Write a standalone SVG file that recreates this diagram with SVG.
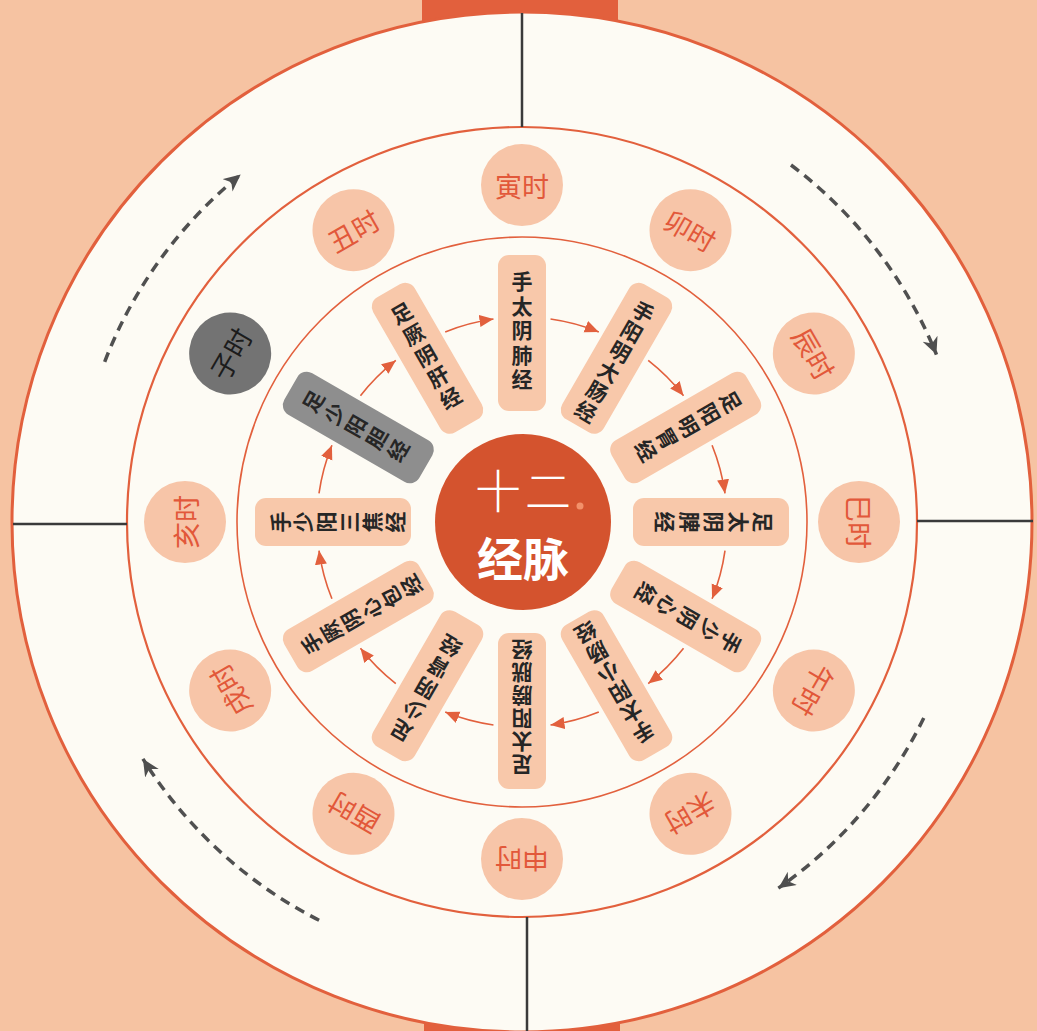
<svg xmlns="http://www.w3.org/2000/svg" width="1037" height="1031" viewBox="0 0 1037 1031">
<defs>
<style>
.bg{fill:#f6c3a2}
.ring{fill:none;stroke:#e2603d}
.cross{stroke:#3a3a3a;stroke-width:2.5}
.hc{fill:#f7c5a8}
.hcd{fill:#737373}
.ht{font-family:"Noto Sans CJK SC","Noto Sans",sans-serif;font-size:27px;fill:#e2583a;text-anchor:middle;dominant-baseline:central}
.htd{fill:#1c1c1c}
.box{fill:#f8c8aa}
.boxd{fill:#8e8e8e}
.bt{font-family:"Noto Sans CJK SC","Noto Sans",sans-serif;font-size:21px;font-weight:700;fill:#262626;text-anchor:middle;dominant-baseline:central}
.flow{fill:none;stroke:#e2603d;stroke-width:1.6}
.dash{fill:none;stroke:#505050;stroke-width:3.5;stroke-dasharray:10 7}
.ct{font-family:"Noto Sans CJK SC","Noto Sans",sans-serif;font-size:46px;fill:#ffffff;text-anchor:middle;dominant-baseline:central}
</style>
<marker id="ah" markerUnits="userSpaceOnUse" markerWidth="16" markerHeight="14" refX="14" refY="6" orient="auto">
<path d="M0,0 L14,6 L0,12 Z" fill="#e2603d"/>
</marker>
<marker id="dh" markerUnits="userSpaceOnUse" markerWidth="20" markerHeight="18" refX="17" refY="8" orient="auto">
<path d="M0,0 L17,8 L0,16 L5,8 Z" fill="#4f4f4f"/>
</marker>
</defs>

<rect class="bg" x="0" y="0" width="1037" height="1031"/>
<rect x="422" y="0" width="196" height="40" fill="#e2603d"/>
<rect x="424" y="990" width="196" height="41" fill="#e2603d"/>
<circle cx="522" cy="522" r="510" fill="#fdfbf4" stroke="#e2603d" stroke-width="3"/>
<circle class="ring" cx="522" cy="522" r="395" stroke-width="2.2"/>
<circle class="ring" cx="522" cy="522" r="285" stroke-width="1.6"/>
<g id="dividers">
<line class="cross" x1="522" y1="13" x2="522" y2="127"/>
<line class="cross" x1="527" y1="917" x2="527" y2="1031"/>
<line class="cross" x1="13" y1="524" x2="127" y2="524"/>
<line class="cross" x1="917" y1="521" x2="1033" y2="521"/>
</g>

<g id="connectors">
<g id="flow-arrows">
<path class="flow" marker-end="url(#ah)" d="M550.53,318.99 A205,205 0 0 1 598.8,331.93" transform="rotate(0 522 522)"/>
<path class="flow" marker-end="url(#ah)" d="M550.53,318.99 A205,205 0 0 1 598.8,331.93" transform="rotate(30 522 522)"/>
<path class="flow" marker-end="url(#ah)" d="M550.53,318.99 A205,205 0 0 1 598.8,331.93" transform="rotate(60 522 522)"/>
<path class="flow" marker-end="url(#ah)" d="M550.53,318.99 A205,205 0 0 1 598.8,331.93" transform="rotate(90 522 522)"/>
<path class="flow" marker-end="url(#ah)" d="M550.53,318.99 A205,205 0 0 1 598.8,331.93" transform="rotate(120 522 522)"/>
<path class="flow" marker-end="url(#ah)" d="M550.53,318.99 A205,205 0 0 1 598.8,331.93" transform="rotate(150 522 522)"/>
<path class="flow" marker-end="url(#ah)" d="M550.53,318.99 A205,205 0 0 1 598.8,331.93" transform="rotate(180 522 522)"/>
<path class="flow" marker-end="url(#ah)" d="M550.53,318.99 A205,205 0 0 1 598.8,331.93" transform="rotate(210 522 522)"/>
<path class="flow" marker-end="url(#ah)" d="M550.53,318.99 A205,205 0 0 1 598.8,331.93" transform="rotate(240 522 522)"/>
<path class="flow" marker-end="url(#ah)" d="M550.53,318.99 A205,205 0 0 1 598.8,331.93" transform="rotate(270 522 522)"/>
<path class="flow" marker-end="url(#ah)" d="M550.53,318.99 A205,205 0 0 1 598.8,331.93" transform="rotate(300 522 522)"/>
<path class="flow" marker-end="url(#ah)" d="M550.53,318.99 A205,205 0 0 1 598.8,331.93" transform="rotate(330 522 522)"/>
</g>
<g id="dashed-arrows">
<path class="dash" marker-end="url(#dh)" d="M791,165 A447,447 0 0 1 936.45,354.55"/>
<path class="dash" marker-end="url(#dh)" d="M923.76,717.95 A447,447 0 0 1 778.39,888.16"/>
<path class="dash" marker-end="url(#dh)" d="M319.07,920.28 A447,447 0 0 1 142.92,758.87"/>
<path class="dash" marker-end="url(#dh)" d="M104.69,361.81 A447,447 0 0 1 240.69,174.61"/>
</g>
</g>

<g id="hour-yin" transform="rotate(0 522 522)"><circle class="hc" cx="522" cy="185" r="41"/><text class="ht" x="522" y="185">寅时</text></g>
<g id="hour-mao" transform="rotate(30 522 522)"><circle class="hc" cx="522" cy="185" r="41"/><text class="ht" x="522" y="185">卯时</text></g>
<g id="hour-chen" transform="rotate(60 522 522)"><circle class="hc" cx="522" cy="185" r="41"/><text class="ht" x="522" y="185">辰时</text></g>
<g id="hour-si" transform="rotate(90 522 522)"><circle class="hc" cx="522" cy="185" r="41"/><text class="ht" x="522" y="185">巳时</text></g>
<g id="hour-wu" transform="rotate(120 522 522)"><circle class="hc" cx="522" cy="185" r="41"/><text class="ht" x="522" y="185">午时</text></g>
<g id="hour-wei" transform="rotate(150 522 522)"><circle class="hc" cx="522" cy="185" r="41"/><text class="ht" x="522" y="185">未时</text></g>
<g id="hour-shen" transform="rotate(180 522 522)"><circle class="hc" cx="522" cy="185" r="41"/><text class="ht" x="522" y="185">申时</text></g>
<g id="hour-you" transform="rotate(210 522 522)"><circle class="hc" cx="522" cy="185" r="41"/><text class="ht" x="522" y="185">酉时</text></g>
<g id="hour-xu" transform="rotate(240 522 522)"><circle class="hc" cx="522" cy="185" r="41"/><text class="ht" x="522" y="185">戌时</text></g>
<g id="hour-hai" transform="rotate(270 522 522)"><circle class="hc" cx="522" cy="185" r="41"/><text class="ht" x="522" y="185">亥时</text></g>
<g id="hour-zi" transform="rotate(300 522 522)"><circle class="hcd" cx="522" cy="185" r="41"/><text class="ht htd" x="522" y="185">子时</text></g>
<g id="hour-chou" transform="rotate(330 522 522)"><circle class="hc" cx="522" cy="185" r="41"/><text class="ht" x="522" y="185">丑时</text></g>

<g id="m-lung" transform="rotate(0 522 522)"><rect class="box" x="498" y="255" width="48" height="156" rx="11"/><text class="bt" x="522 522 522 522 522" y="280 304.5 329 353.5 378">手太阴肺经</text></g>
<g id="m-large-intestine" transform="rotate(30 522 522)"><rect class="box" x="498" y="255" width="48" height="156" rx="11"/><text class="bt" x="522 522 522 522 522 522" y="278.5 301.5 324.5 347.5 370.5 393.5">手阳明大肠经</text></g>
<g id="m-stomach" transform="rotate(60 522 522)"><rect class="box" x="498" y="255" width="48" height="156" rx="11"/><text class="bt" x="522 522 522 522 522" y="280 304.5 329 353.5 378">足阳明胃经</text></g>
<g id="m-spleen" transform="rotate(90 522 522)"><rect class="box" x="498" y="255" width="48" height="156" rx="11"/><text class="bt" x="522 522 522 522 522" y="280 304.5 329 353.5 378">足太阴脾经</text></g>
<g id="m-heart" transform="rotate(120 522 522)"><rect class="box" x="498" y="255" width="48" height="156" rx="11"/><text class="bt" x="522 522 522 522 522" y="280 304.5 329 353.5 378">手少阴心经</text></g>
<g id="m-small-intestine" transform="rotate(150 522 522)"><rect class="box" x="498" y="255" width="48" height="156" rx="11"/><text class="bt" x="522 522 522 522 522 522" y="278.5 301.5 324.5 347.5 370.5 393.5">手太阳小肠经</text></g>
<g id="m-bladder" transform="rotate(180 522 522)"><rect class="box" x="498" y="255" width="48" height="156" rx="11"/><text class="bt" x="522 522 522 522 522 522" y="278.5 301.5 324.5 347.5 370.5 393.5">足太阳膀胱经</text></g>
<g id="m-kidney" transform="rotate(210 522 522)"><rect class="box" x="498" y="255" width="48" height="156" rx="11"/><text class="bt" x="522 522 522 522 522" y="280 304.5 329 353.5 378">足少阴肾经</text></g>
<g id="m-pericardium" transform="rotate(240 522 522)"><rect class="box" x="498" y="255" width="48" height="156" rx="11"/><text class="bt" x="522 522 522 522 522 522" y="278.5 301.5 324.5 347.5 370.5 393.5">手厥阴心包经</text></g>
<g id="m-sanjiao" transform="rotate(270 522 522)"><rect class="box" x="498" y="255" width="48" height="156" rx="11"/><text class="bt" x="522 522 522 522 522 522" y="278.5 301.5 324.5 347.5 370.5 393.5">手少阳三焦经</text></g>
<g id="m-gallbladder" transform="rotate(300 522 522)"><rect class="boxd" x="498" y="255" width="48" height="156" rx="11"/><text class="bt" x="522 522 522 522 522" y="280 304.5 329 353.5 378">足少阳胆经</text></g>
<g id="m-liver" transform="rotate(330 522 522)"><rect class="box" x="498" y="255" width="48" height="156" rx="11"/><text class="bt" x="522 522 522 522 522" y="280 304.5 329 353.5 378">足厥阴肝经</text></g>

<g id="center">
<circle cx="523" cy="522" r="88" fill="#d4532e"/>
<text class="ct" x="525" y="488" font-weight="300" letter-spacing="4">十二</text>
<circle cx="580" cy="506" r="3.5" fill="#f2916a"/>
<text class="ct" x="523" y="556" font-weight="700">经脉</text>
</g>
</svg>
